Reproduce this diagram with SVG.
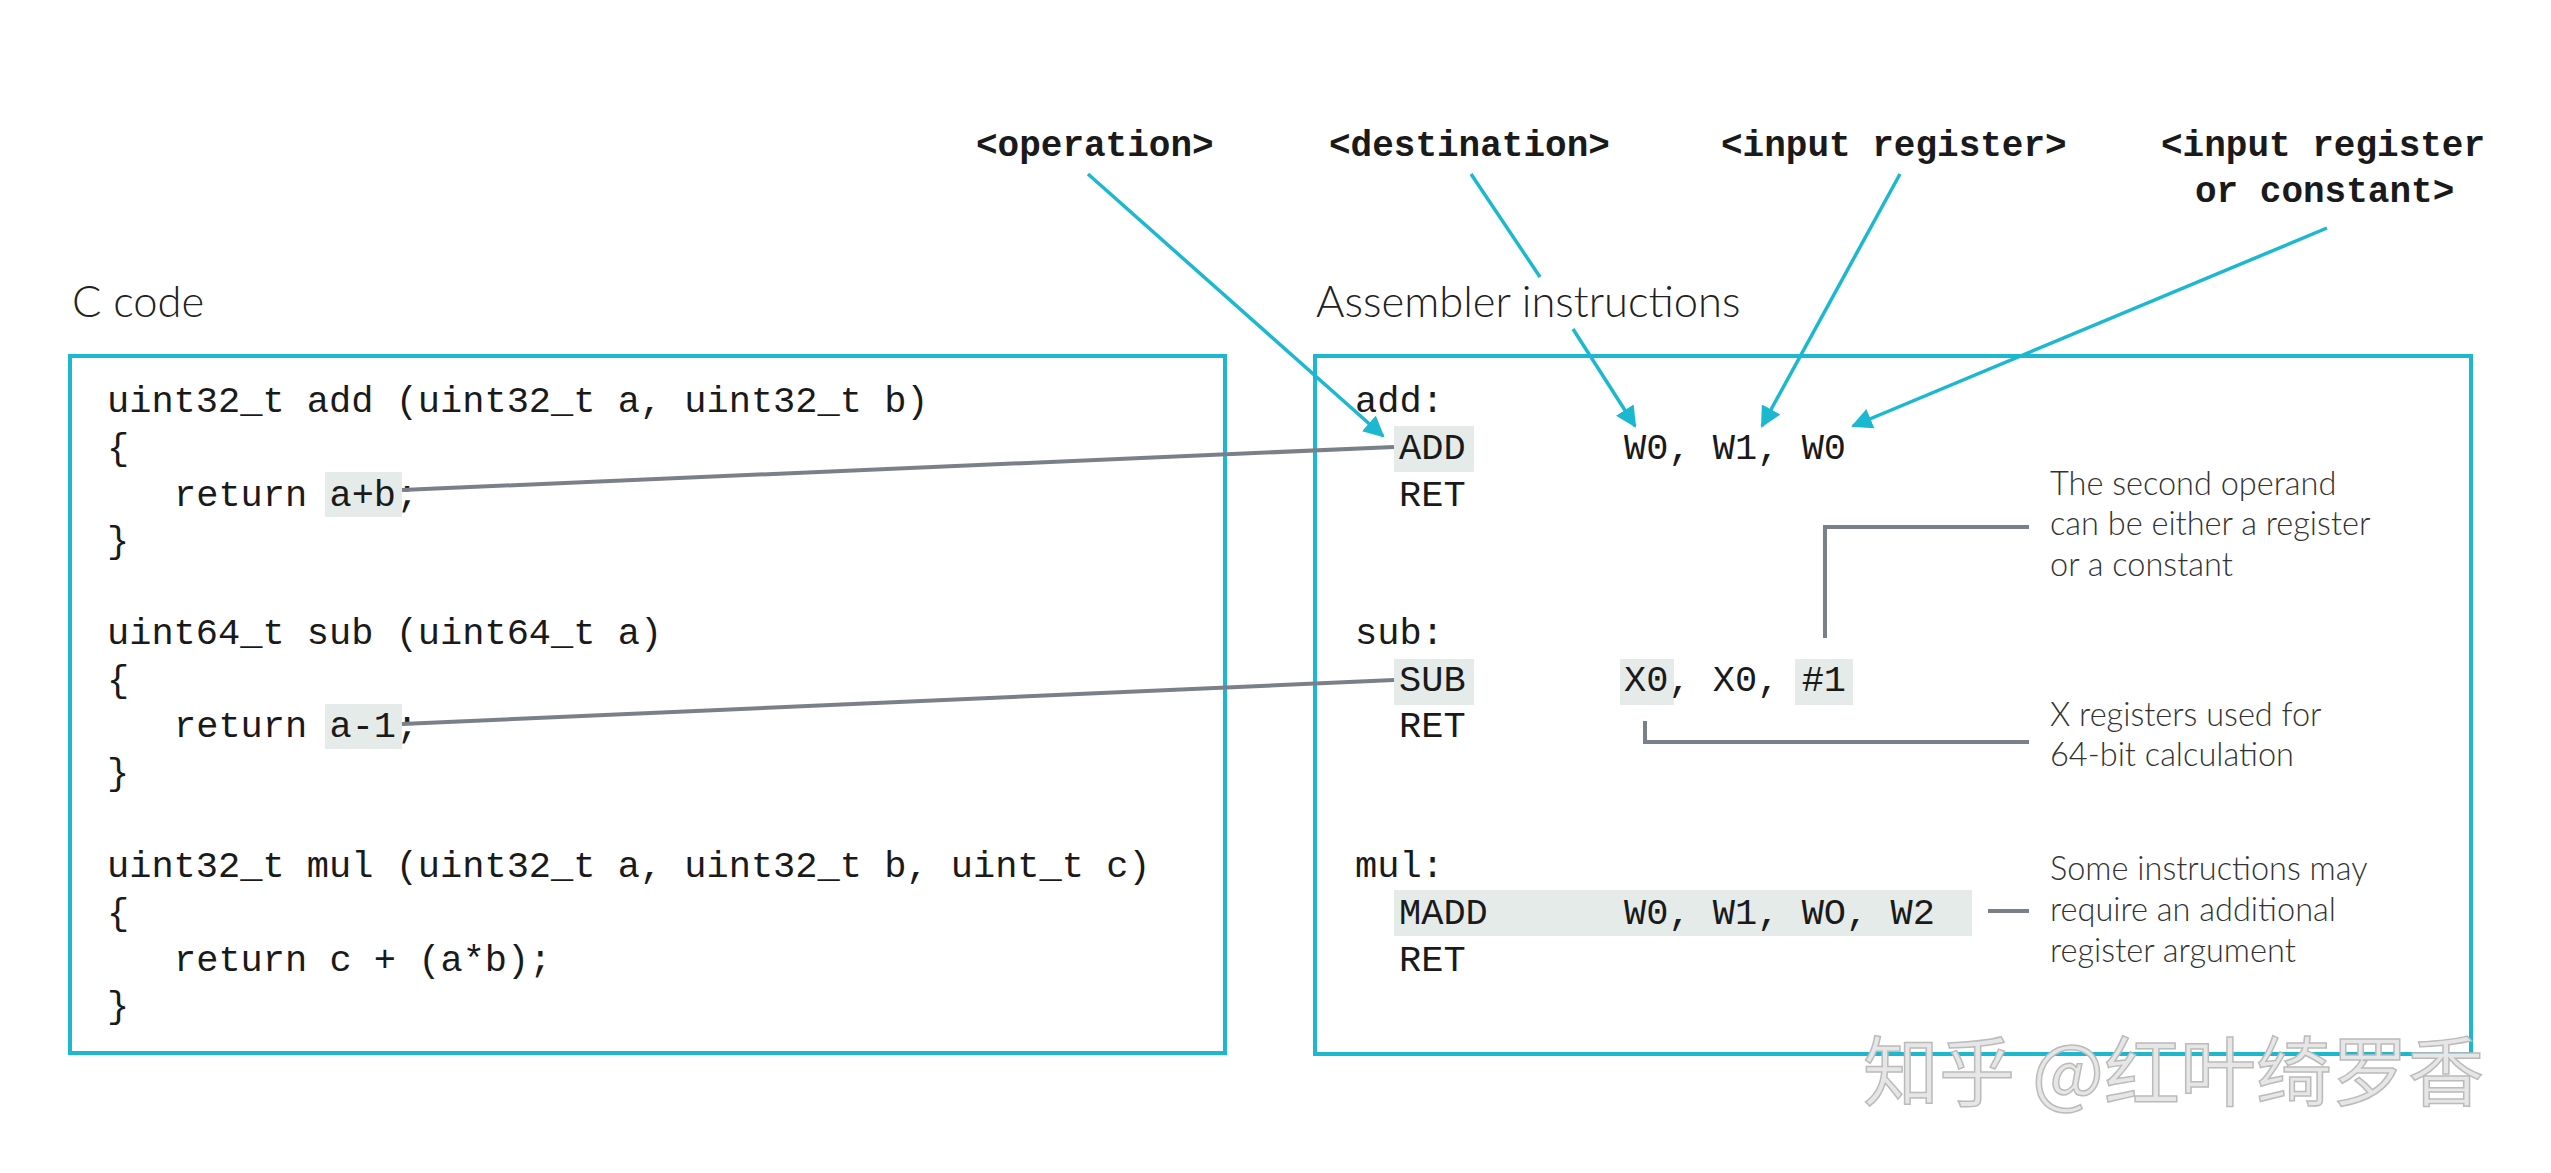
<svg xmlns="http://www.w3.org/2000/svg" width="2551" height="1173" viewBox="0 0 2551 1173">
<defs>
<style>
.code{font-family:"Liberation Mono","Courier New",monospace;font-size:37px;fill:#1a1a1a}
.lbl{font-family:"Liberation Mono","Courier New",monospace;font-size:36px;fill:#1a1a1a;font-weight:bold}
.title{font-family:Lato,"Open Sans",sans-serif;font-weight:300;font-size:43.5px;fill:#222}
.note{font-family:Lato,"Open Sans",sans-serif;font-weight:300;font-size:32.5px;fill:#333}
.box{fill:none;stroke:#1bb8d0;stroke-width:4}
.hl{fill:#e4ebe9}
.gray{fill:none;stroke:#7a8087;stroke-width:4}
.cyan{fill:none;stroke:#1bb8d0;stroke-width:3.5}
</style>
<marker id="ah" viewBox="0 0 10 10" refX="9" refY="5" markerWidth="6" markerHeight="6" orient="auto"><path d="M0,0L10,5L0,10z" fill="#1bb8d0"/></marker>
</defs>
<rect width="2551" height="1173" fill="#fff"/>
<g id="c-code">
<text class="title" x="72" y="317">C code</text>
<rect class="box" x="70" y="356" width="1155" height="697"/>
<rect class="hl" x="325" y="472" width="77" height="45"/>
<rect class="hl" x="325" y="704" width="77" height="45"/>
<text class="code" x="107" y="412">uint32_t add (uint32_t a, uint32_t b)</text>
<text class="code" x="107" y="459">{</text>
<text class="code" x="174" y="506">return a+b;</text>
<text class="code" x="107" y="552">}</text>
<text class="code" x="107" y="644">uint64_t sub (uint64_t a)</text>
<text class="code" x="107" y="691">{</text>
<text class="code" x="174" y="737">return a-1;</text>
<text class="code" x="107" y="784">}</text>
<text class="code" x="107" y="877">uint32_t mul (uint32_t a, uint32_t b, uint_t c)</text>
<text class="code" x="107" y="924">{</text>
<text class="code" x="174" y="971">return c + (a*b);</text>
<text class="code" x="107" y="1017">}</text>
</g>
<g id="asm">
<text class="title" x="1316" y="317">Assembler instructions</text>
<rect class="box" x="1315" y="356" width="1156" height="698"/>
<rect class="hl" x="1394" y="426" width="80" height="46"/>
<rect class="hl" x="1394" y="659" width="80" height="46"/>
<rect class="hl" x="1620" y="659" width="54" height="46"/>
<rect class="hl" x="1795" y="659" width="58" height="46"/>
<rect class="hl" x="1394" y="890" width="578" height="46"/>
<text class="code" x="1355" y="412">add:</text>
<text class="code" x="1399" y="459">ADD</text>
<text class="code" x="1624" y="459">W0, W1, W0</text>
<text class="code" x="1399" y="506">RET</text>
<text class="code" x="1355" y="644">sub:</text>
<text class="code" x="1399" y="691">SUB</text>
<text class="code" x="1624" y="691">X0, X0, #1</text>
<text class="code" x="1399" y="737">RET</text>
<text class="code" x="1355" y="877">mul:</text>
<text class="code" x="1399" y="924">MADD</text>
<text class="code" x="1624" y="924">W0, W1, WO, W2</text>
<text class="code" x="1399" y="971">RET</text>
</g>
<g id="labels">
<text class="lbl" x="976" y="156">&lt;operation&gt;</text>
<text class="lbl" x="1329" y="156">&lt;destination&gt;</text>
<text class="lbl" x="1721" y="156">&lt;input register&gt;</text>
<text class="lbl" x="2161" y="156">&lt;input register</text>
<text class="lbl" x="2195" y="202">or constant&gt;</text>
</g>
<g id="notes">
<text class="note" x="2050" y="495">The second operand</text>
<text class="note" x="2050" y="535">can be either a register</text>
<text class="note" x="2050" y="576">or a constant</text>
<text class="note" x="2050" y="726">X registers used for</text>
<text class="note" x="2050" y="766">64-bit calculation</text>
<text class="note" x="2050" y="880">Some instructions may</text>
<text class="note" x="2050" y="921">require an additional</text>
<text class="note" x="2050" y="962">register argument</text>
</g>
<g id="connectors">
<path class="gray" d="M402,490L1394,447"/>
<path class="gray" d="M402,724L1394,680"/>
<path class="gray" d="M1825,638V527H2029"/>
<path class="gray" d="M1645,721V742H2029"/>
<path class="gray" d="M1988,911H2029"/>
<path class="cyan" d="M1088,174L1383,436" marker-end="url(#ah)"/>
<path class="cyan" d="M1471,174L1540,277"/>
<path class="cyan" d="M1573,329L1635,426" marker-end="url(#ah)"/>
<path class="cyan" d="M1900,174L1762,426" marker-end="url(#ah)"/>
<path class="cyan" d="M2327,228L1853,426" marker-end="url(#ah)"/>
</g>
<text x="1863" y="1100" font-family="'Noto Sans CJK SC',sans-serif" font-size="76" fill="#e6e6e6" stroke="#bbb" stroke-width="1.5">知乎 @红叶绮罗香</text>
</svg>
